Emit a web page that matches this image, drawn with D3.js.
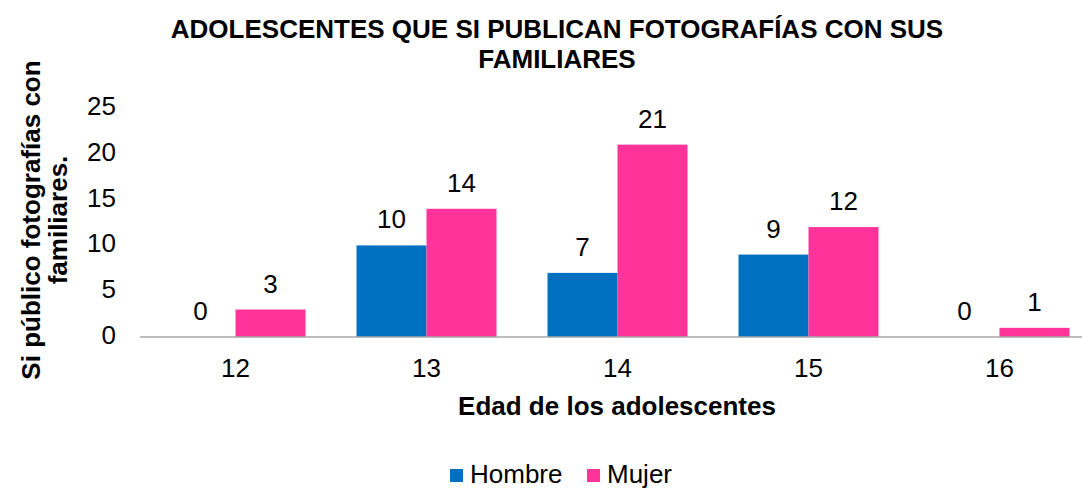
<!DOCTYPE html>
<head>
  <meta charset="utf-8">
  <script src="https://d3js.org/d3.v7.min.js"></script>
  <style>
    body { margin: 0; background: #fff; }
    * { font-family: Arial, "Liberation Sans", sans-serif; }
  </style>
</head>
<body>
  <svg width="1082" height="489"></svg>
  <script>
    const ages = ["12", "13", "14", "15", "16"];
    const hombre = [0, 10, 7, 9, 0];
    const mujer = [3, 14, 21, 12, 1];
    const seriesNames = ["Hombre", "Mujer"];
    const colors = ["#0070C0", "#FF3399"];
    const yTicks = [0, 5, 10, 15, 20, 25];

    const svg = d3.select("svg");

    const x = d3.scaleBand().domain(ages).range([140, 1095]).paddingInner(0).paddingOuter(0);
    const x1 = d3.scaleBand().domain(seriesNames).range([0, 140]);
    const y = d3.scaleLinear().domain([0, 25]).range([337, 108]);

    // title
    const title = svg.append("text")
      .attr("text-anchor", "middle")
      .style("font-size", "26px").style("font-weight", "bold").attr("fill", "#000");
    title.append("tspan").attr("x", 557).attr("y", 38).text("ADOLESCENTES QUE SI PUBLICAN FOTOGRAFÍAS CON SUS");
    title.append("tspan").attr("x", 557).attr("y", 68).text("FAMILIARES");

    // y tick labels
    svg.append("g").selectAll("text")
      .data(yTicks).join("text")
      .attr("x", 116).attr("y", d => y(d) + 7)
      .attr("text-anchor", "end")
      .style("font-size", "26px")
      .text(d => d);

    // y axis title
    const yt = svg.append("text")
      .attr("transform", "translate(0,220) rotate(-90)")
      .attr("text-anchor", "middle")
      .style("font-size", "26px").style("font-weight", "bold");
    yt.append("tspan").attr("x", 0).attr("y", 40).text("Si público fotografías con");
    yt.append("tspan").attr("x", 0).attr("y", 67).text("familiares.");

    const rows = ages.map((a, i) => [
      { age: a, s: "Hombre", v: hombre[i], c: colors[0] },
      { age: a, s: "Mujer", v: mujer[i], c: colors[1] }
    ]).flat();

    const groupOffset = (x.bandwidth() - 140) / 2;

    svg.append("g").selectAll("rect")
      .data(rows).join("rect")
      .attr("x", d => x(d.age) + groupOffset + x1(d.s))
      .attr("y", d => y(d.v))
      .attr("width", x1.bandwidth())
      .attr("height", d => y(0) - y(d.v))
      .attr("fill", d => d.c);

    // value labels
    svg.append("g").selectAll("text")
      .data(rows).join("text")
      .attr("x", d => x(d.age) + groupOffset + x1(d.s) + x1.bandwidth() / 2)
      .attr("y", d => y(d.v) - 17)
      .attr("text-anchor", "middle")
      .style("font-size", "26px")
      .text(d => d.v);

    // x axis line
    svg.append("line")
      .attr("x1", 140).attr("x2", 1095)
      .attr("y1", y(0)).attr("y2", y(0))
      .attr("stroke", "#A6A6A6").attr("stroke-width", 1.5);

    // x tick labels
    svg.append("g").selectAll("text")
      .data(ages).join("text")
      .attr("x", d => x(d) + x.bandwidth() / 2)
      .attr("y", 377)
      .attr("text-anchor", "middle")
      .style("font-size", "26px")
      .text(d => d);

    svg.append("text")
      .attr("x", 617).attr("y", 415)
      .attr("text-anchor", "middle")
      .style("font-size", "26px").style("font-weight", "bold")
      .text("Edad de los adolescentes");

    // legend
    const legendX = [450, 587];
    const lg = svg.append("g").selectAll("g")
      .data(seriesNames).join("g")
      .attr("transform", (d, i) => `translate(${legendX[i]},469)`);
    lg.append("rect").attr("x", 0).attr("y", 0).attr("width", 13).attr("height", 13)
      .attr("fill", (d, i) => colors[i]);
    lg.append("text").attr("x", 20).attr("y", 14)
      .style("font-size", "26px")
      .text(d => d);
  </script>
</body>
